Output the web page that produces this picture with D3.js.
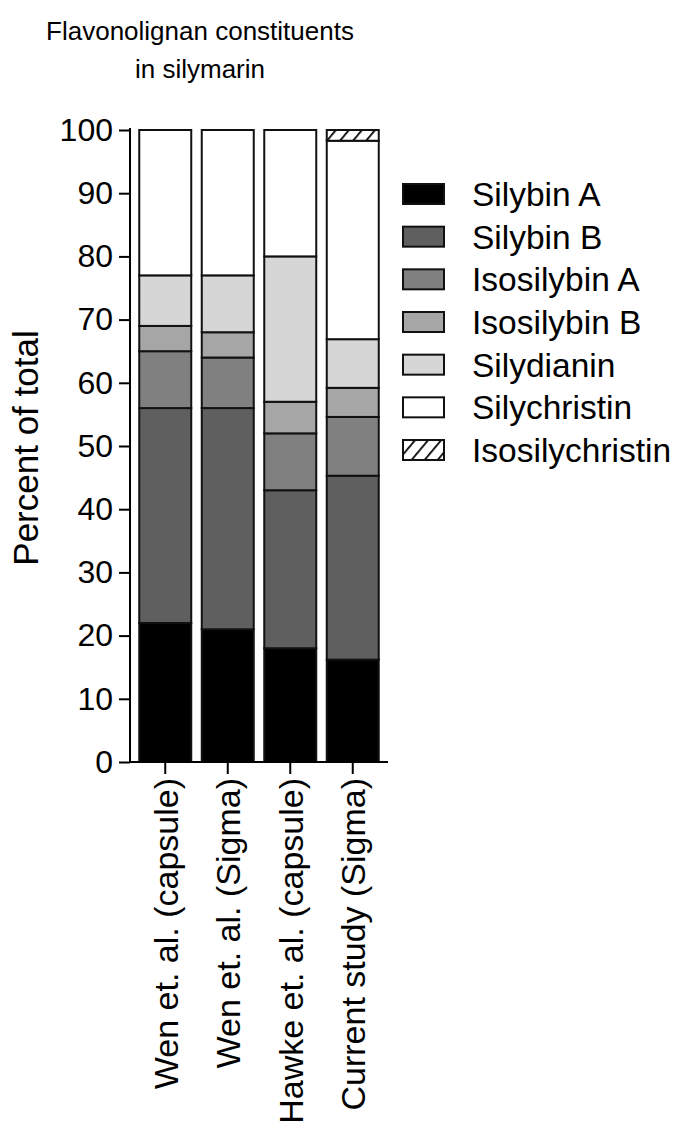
<!DOCTYPE html>
<html><head><meta charset="utf-8">
<script src="https://cdn.jsdelivr.net/npm/d3@7"></script>
<style>
body{margin:0;background:#fff;}
svg text{font-family:"Liberation Sans",Arial,sans-serif;fill:#000;}
</style></head>
<body>
<svg id="chart" width="679" height="1128"></svg>
<script>
const categories = ["Wen et. al. (capsule)", "Wen et. al. (Sigma)", "Hawke et. al. (capsule)", "Current study (Sigma)"];
const seriesNames = ["Silybin A", "Silybin B", "Isosilybin A", "Isosilybin B", "Silydianin", "Silychristin", "Isosilychristin"];
const silybinA       = [22, 21, 18, 16.2];
const silybinB       = [34, 35, 25, 29.1];
const isosilybinA    = [9, 8, 9, 9.3];
const isosilybinB    = [4, 4, 5, 4.6];
const silydianin     = [8, 9, 23, 7.7];
const silychristin   = [23, 23, 20, 31.4];
const isosilychristin= [0, 0, 0, 1.7];
const yTicks = [0, 10, 20, 30, 40, 50, 60, 70, 80, 90, 100];
const fills = ["#000000", "#5f5f5f", "#808080", "#a6a6a6", "#d6d6d6", "#ffffff", "url(#hatch)"];

const seriesValues = [silybinA, silybinB, isosilybinA, isosilybinB, silydianin, silychristin, isosilychristin];
const rows = categories.map((c, i) => {
  const r = {cat: c};
  seriesNames.forEach((s, j) => r[s] = seriesValues[j][i]);
  return r;
});

const svg = d3.select("#chart");
const defs = svg.append("defs");
const pat = defs.append("pattern").attr("id", "hatch").attr("patternUnits", "userSpaceOnUse")
  .attr("width", 10).attr("height", 10).attr("patternTransform", "rotate(40)");
pat.append("rect").attr("width", 10).attr("height", 10).attr("fill", "#fff");
pat.append("line").attr("x1", 0).attr("y1", 0).attr("x2", 0).attr("y2", 10)
  .attr("stroke", "#000").attr("stroke-width", 3.5);

const font = '"Liberation Sans",Arial,sans-serif';
const y = d3.scaleLinear().domain([0, 100]).range([762, 130]);
const x = d3.scaleBand().domain(categories).range([130, 388]).paddingInner(0.168).paddingOuter(0.148);

const stack = d3.stack().keys(seriesNames)(rows);

// bars
const g = svg.append("g");
stack.forEach((layer, j) => {
  g.selectAll(null).data(layer.filter(d => d[1] - d[0] > 0)).join("rect")
    .attr("x", d => x(d.data.cat))
    .attr("width", x.bandwidth())
    .attr("y", d => y(d[1]))
    .attr("height", d => y(d[0]) - y(d[1]))
    .attr("fill", fills[j])
    .attr("stroke", "#111")
    .attr("stroke-width", 2);
});

// y axis
const yAxis = svg.append("g").attr("transform", "translate(130,0)")
  .call(d3.axisLeft(y).tickValues(yTicks).tickSize(11).tickPadding(6));
yAxis.select(".domain").attr("stroke-width", 2).attr("d", `M0,${y(100)-2}V${y(0)}`);
yAxis.selectAll(".tick line").attr("stroke-width", 2);
yAxis.selectAll("text").style("font-size", "32px").style("font-family", font).attr("fill", "#000");

// x axis
const xAxis = svg.append("g").attr("transform", `translate(0,${y(0)})`)
  .call(d3.axisBottom(x).tickSize(12).tickFormat(""));
xAxis.select(".domain").attr("stroke-width", 2).attr("d", "M130,0H388");
xAxis.selectAll(".tick line").attr("stroke-width", 2);
xAxis.selectAll(".tick").append("text")
  .attr("transform", "translate(0,16) rotate(-90)")
  .attr("text-anchor", "end")
  .attr("dy", "0.36em")
  .attr("x", 0).attr("y", 0)
  .style("font-size", "34px").style("font-family", font).attr("fill", "#000")
  .text(d => d);

// y label
svg.append("text")
  .attr("transform", "translate(38,448) rotate(-90)")
  .attr("text-anchor", "middle")
  .style("font-size", "35px")
  .text("Percent of total");

// title
const title = svg.append("text").attr("text-anchor", "middle").style("font-size", "26px");
title.append("tspan").attr("x", 200).attr("y", 40).text("Flavonolignan constituents");
title.append("tspan").attr("x", 200).attr("y", 78).text("in silymarin");

// legend
const leg = svg.append("g");
const legY = d3.scalePoint().domain(seriesNames).range([194, 450]);
seriesNames.forEach((s, j) => {
  leg.append("rect").attr("x", 403).attr("y", legY(s) - 10).attr("width", 41).attr("height", 20)
    .attr("fill", fills[j]).attr("stroke", "#111").attr("stroke-width", 2);
  leg.append("text").attr("x", 472).attr("y", legY(s)).attr("dy", "0.36em")
    .style("font-size", "33.5px").text(s);
});
</script>
</body></html>
